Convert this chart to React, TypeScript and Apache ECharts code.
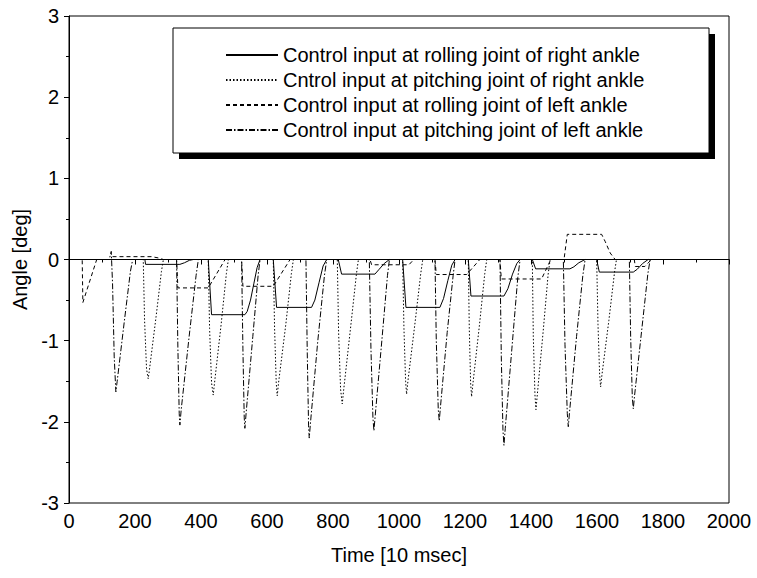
import React, { useEffect, useRef } from "react";
import * as echarts from "echarts";

const FONT = "'Liberation Sans', Arial, sans-serif";

const legendNames = [
  "Control input at rolling joint of right ankle",
  "Cntrol input at pitching joint of right ankle",
  "Control input at rolling joint of left ankle",
  "Control input at pitching joint of left ankle",
];

const xTicks = { min: 0, max: 2000, interval: 200 };
const yTicks = { min: -3, max: 3, interval: 1 };

// Control input at rolling joint of right ankle (solid)
const rollRight: number[][] = [
  [0, 0], [230, 0], [232, -0.06], [336, -0.06], [350, -0.04], [365, -0.01], [377, 0],
  [422, 0], [432, -0.68], [533, -0.68], [540, -0.64], [550, -0.5], [560, -0.3], [570, -0.1], [579, 0],
  [619, 0], [629, -0.59], [735, -0.59], [745, -0.5], [758, -0.28], [770, -0.08], [781, 0],
  [816, 0], [826, -0.18], [927, -0.18], [940, -0.12], [955, -0.05], [971, 0],
  [1011, 0], [1021, -0.59], [1124, -0.59], [1135, -0.48], [1148, -0.26], [1160, -0.07], [1170, 0],
  [1210, 0], [1218, -0.45], [1318, -0.45], [1330, -0.36], [1344, -0.18], [1357, -0.05], [1367, 0],
  [1404, 0], [1414, -0.115], [1518, -0.115], [1530, -0.09], [1545, -0.04], [1564, 0],
  [1599, 0], [1607, -0.155], [1710, -0.155], [1722, -0.12], [1738, -0.05], [1755, 0], [1770, 0],
];

// Control input at pitching joint of right ankle (dotted)
const pitchRight: number[][] = [
  [0, 0], [225, 0], [229, -0.75], [235, -1.35], [240, -1.47], [244, -1.35], [264, -0.7], [280, -0.15], [286, 0],
  [422, 0], [426, -0.85], [432, -1.52], [437, -1.67], [441, -1.52], [461, -0.8], [477, -0.17], [483, 0],
  [619, 0], [623, -0.85], [628, -1.52], [631, -1.68], [635, -1.52], [657, -0.8], [674, -0.17], [680, 0],
  [813, 0], [817, -0.9], [823, -1.6], [828, -1.78], [832, -1.62], [853, -0.85], [871, -0.18], [877, 0],
  [1011, 0], [1015, -0.85], [1020, -1.5], [1023, -1.66], [1027, -1.5], [1048, -0.8], [1066, -0.17], [1072, 0],
  [1210, 0], [1213, -0.85], [1217, -1.52], [1220, -1.69], [1224, -1.53], [1244, -0.8], [1260, -0.17], [1266, 0],
  [1404, 0], [1407, -0.95], [1412, -1.67], [1415, -1.85], [1419, -1.67], [1437, -0.88], [1452, -0.18], [1458, 0],
  [1599, 0], [1603, -0.8], [1608, -1.42], [1611, -1.57], [1615, -1.42], [1636, -0.75], [1653, -0.16], [1659, 0],
  [1770, 0],
];

// Control input at rolling joint of left ankle (dashed)
const rollLeft: number[][] = [
  [0, 0], [40, 0], [42, -0.53], [84, 0],
  [128, 0], [132, 0.035], [250, 0.035], [270, 0.02], [286, 0],
  [326, 0], [330, -0.35], [422, -0.35], [473, 0],
  [523, 0], [527, -0.33], [619, -0.33], [670, 0],
  [912, 0], [917, -0.065], [1030, -0.065], [1045, 0],
  [1109, 0], [1113, -0.185], [1205, -0.185], [1245, 0],
  [1306, 0], [1310, -0.24], [1432, -0.24], [1460, 0],
  [1500, 0], [1510, 0.31], [1614, 0.31], [1625, 0.22], [1640, 0.08], [1655, 0],
  [1713, 0], [1716, -0.086], [1745, -0.086], [1765, 0],
];

// Control input at pitching joint of left ankle (dash-dot)
const pitchLeft: number[][] = [
  [0, 0], [122, 0], [128, 0.1], [132, -0.3], [137, -1.2], [142, -1.63], [146, -1.5], [168, -0.75], [186, -0.15], [193, 0],
  [326, 0], [330, -1.1], [334, -1.9], [336, -2.04], [340, -1.85], [364, -0.95], [385, -0.2], [392, 0],
  [523, 0], [527, -1.1], [531, -1.95], [533, -2.08], [537, -1.88], [557, -0.95], [573, -0.2], [579, 0],
  [718, 0], [722, -1.15], [726, -2.05], [728, -2.2], [732, -2.0], [754, -1.0], [774, -0.2], [781, 0],
  [910, 0], [915, -1.1], [921, -1.95], [924, -2.11], [928, -1.92], [948, -1.0], [965, -0.2], [971, 0],
  [1109, 0], [1113, -1.0], [1119, -1.85], [1122, -1.99], [1126, -1.8], [1146, -0.9], [1164, -0.2], [1170, 0],
  [1306, 0], [1310, -1.2], [1315, -2.1], [1318, -2.29], [1322, -2.08], [1342, -1.1], [1360, -0.22], [1367, 0],
  [1498, 0], [1503, -1.05], [1510, -1.9], [1513, -2.06], [1517, -1.87], [1538, -0.95], [1557, -0.2], [1564, 0],
  [1698, 0], [1702, -0.95], [1707, -1.7], [1710, -1.84], [1714, -1.67], [1736, -0.85], [1754, -0.18], [1761, 0],
  [1770, 0],
];

export default function App() {
  const ref = useRef<HTMLDivElement>(null);
  useEffect(() => {
    if (!ref.current) return;
    const chart = echarts.init(ref.current, undefined, { renderer: "svg" });
    const axisCommon = {
      axisLine: { show: true, lineStyle: { color: "#000", width: 1 } },
      axisTick: { show: true, inside: false, length: 5, lineStyle: { color: "#000" } },
      minorTick: { show: true, splitNumber: 2, length: 3, lineStyle: { color: "#000" } },
      splitLine: { show: false },
      axisLabel: {
        color: "#000",
        fontSize: 20,
        fontFamily: FONT,
        formatter: (v: number) => String(v),
      },
      nameTextStyle: { color: "#000", fontSize: 20, fontFamily: FONT },
      nameLocation: "middle" as const,
    };
    const lineBase = (name: string, data: number[][], type: any) => ({
      name,
      type: "line",
      data,
      symbol: "none",
      showSymbol: false,
      lineStyle: { color: "#000", width: 1, type },
      itemStyle: { color: "#000" },
      z: 2,
    });
    const s1: any = lineBase(legendNames[0], rollRight, "solid");
    s1.markLine = {
      silent: true,
      symbol: "none",
      label: { show: false },
      lineStyle: { color: "#000", width: 1, type: "solid" },
      data: [{ yAxis: 0 }],
    };
    chart.setOption({
      animation: false,
      backgroundColor: "#fff",
      grid: {
        left: 69,
        right: 28,
        top: 16,
        bottom: 75,
        show: true,
        borderColor: "#000",
        borderWidth: 1,
        containLabel: false,
      },
      xAxis: {
        type: "value",
        ...xTicks,
        ...axisCommon,
        axisLabel: { ...axisCommon.axisLabel, margin: 8 },
        name: "Time [10 msec]",
        nameGap: 42,
      },
      yAxis: {
        type: "value",
        ...yTicks,
        ...axisCommon,
        axisLabel: { ...axisCommon.axisLabel, margin: 10 },
        name: "Angle [deg]",
        nameGap: 36,
      },
      legend: {
        orient: "vertical",
        left: 220,
        top: 40,
        itemWidth: 52,
        itemHeight: 20,
        itemGap: 5,
        itemStyle: { opacity: 0 },
        textStyle: { color: "#000", fontSize: 20, fontFamily: FONT, lineHeight: 20 },
        data: legendNames,
        selectedMode: false,
        z: 10,
      },
      graphic: [
        {
          type: "rect",
          z: 5,
          shape: { x: 179, y: 34, width: 536, height: 125 },
          style: { fill: "#000" },
        },
        {
          type: "rect",
          z: 6,
          shape: { x: 173, y: 28, width: 536, height: 125 },
          style: { fill: "#fff", stroke: "#000", lineWidth: 1 },
        },
      ],
      series: [
        s1,
        lineBase(legendNames[1], pitchRight, [1.5, 2]),
        lineBase(legendNames[2], rollLeft, [4, 3]),
        lineBase(legendNames[3], pitchLeft, [6, 2, 1.5, 2]),
      ],
    });
    return () => chart.dispose();
  }, []);
  return (
    <div
      ref={ref}
      style={{ position: "absolute", left: 0, top: 0, width: 757, height: 578 }}
    />
  );
}
